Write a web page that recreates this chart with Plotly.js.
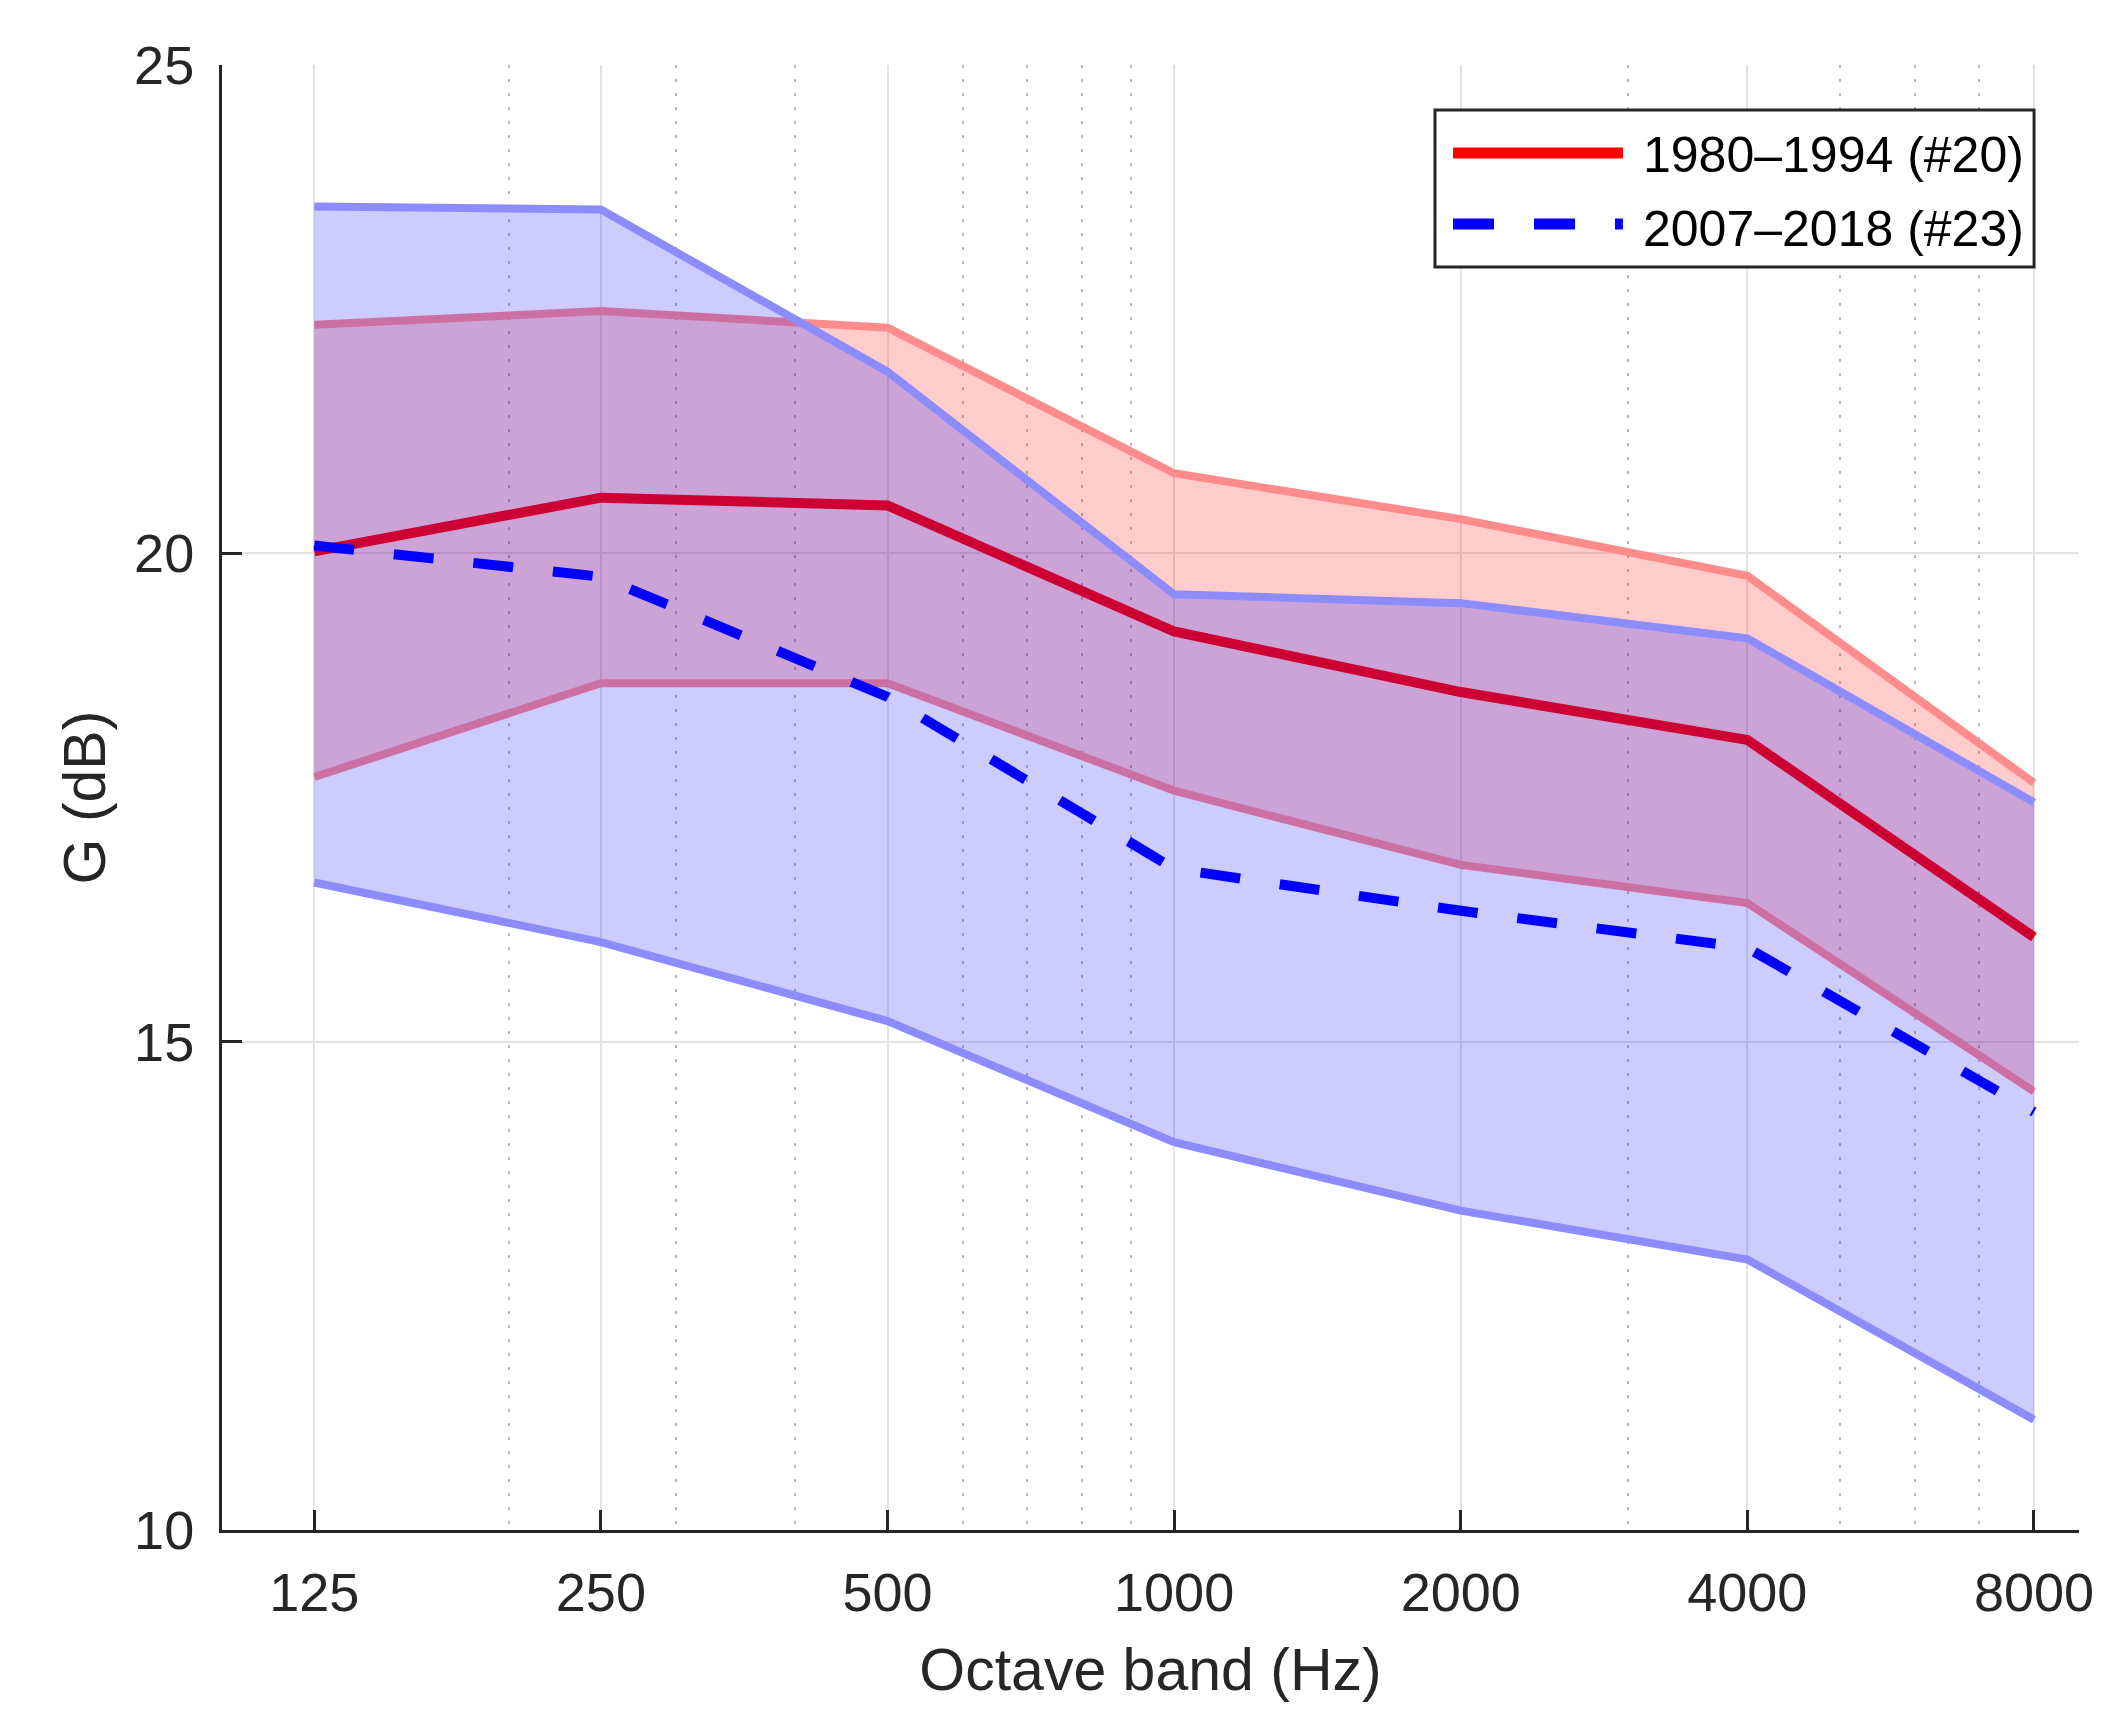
<!DOCTYPE html>
<html>
<head>
<meta charset="utf-8">
<script src="https://cdn.plot.ly/plotly-3.0.1.min.js"></script>
<style>
html,body{margin:0;padding:0;background:#fff;}
#chart{width:2112px;height:1736px;}
</style>
</head>
<body>
<div id="chart"></div>
<script>
// Octave bands (Hz)
const bands = [125, 250, 500, 1000, 2000, 4000, 8000];
const bandLabels = ["125", "250", "500", "1000", "2000", "4000", "8000"];
const minorTicks = [200, 300, 400, 600, 700, 800, 900, 3000, 5000, 6000, 7000];
const yTicks = [10, 15, 20, 25];

// 1980–1994 (#20)
const oldMean  = [20.02, 20.57, 20.49, 19.20, 18.58, 18.09, 16.07];
const oldUpper = [22.34, 22.48, 22.31, 20.82, 20.35, 19.77, 17.65];
const oldLower = [17.71, 18.67, 18.67, 17.57, 16.81, 16.42, 14.49];

// 2007–2018 (#23)
const newMean  = [20.08, 19.76, 18.53, 16.77, 16.34, 15.96, 14.28];
const newUpper = [23.55, 23.52, 21.86, 19.58, 19.49, 19.13, 17.45];
const newLower = [16.63, 16.02, 15.21, 13.97, 13.27, 12.77, 11.13];

const seriesNames = ["1980\u20131994 (#20)", "2007\u20132018 (#23)"];

const FONT = "'Liberation Sans', Arial, Helvetica, sans-serif";
const INK = "#262626";

const traces = [
  {x: bands, y: oldLower, mode: "lines", line: {color: "#ff8c8c", width: 8}, showlegend: false, hoverinfo: "skip"},
  {x: bands, y: oldUpper, mode: "lines", fill: "tonexty", fillcolor: "rgba(255,0,0,0.2)",
   line: {color: "#ff8c8c", width: 8}, showlegend: false, hoverinfo: "skip"},
  {x: bands, y: oldMean, mode: "lines", name: seriesNames[0], line: {color: "#ff0000", width: 10}, showlegend: false},
  {x: bands, y: newLower, mode: "lines", line: {color: "#8c8cff", width: 8}, showlegend: false, hoverinfo: "skip"},
  {x: bands, y: newUpper, mode: "lines", fill: "tonexty", fillcolor: "rgba(0,0,255,0.2)",
   line: {color: "#8c8cff", width: 8}, showlegend: false, hoverinfo: "skip"},
  {x: bands, y: newMean, mode: "lines", name: seriesNames[1], line: {color: "#0000ff", width: 10, dash: "40px,40px"}, showlegend: false}
];

// custom legend (paper coordinates)
const legX0 = 0.6532, legX1 = 0.9758, legY0 = 0.8621, legY1 = 0.9693;
const shapes = [
  {type: "rect", xref: "paper", yref: "paper", x0: legX0, x1: legX1, y0: legY0, y1: legY1,
   line: {color: INK, width: 3}, fillcolor: "#ffffff", layer: "above"},
  {type: "line", xref: "paper", yref: "paper", x0: 0.6629, x1: 0.7544, y0: 0.9399, y1: 0.9399,
   line: {color: "#ff0000", width: 11}, layer: "above"},
  {type: "line", xref: "paper", yref: "paper", x0: 0.6629, x1: 0.7544, y0: 0.8915, y1: 0.8915,
   line: {color: "#0000ff", width: 11, dash: "41px,40px"}, layer: "above"}
];
const annotations = [
  {xref: "paper", yref: "paper", x: 0.7641, y: 0.9385, xanchor: "left", yanchor: "middle",
   text: seriesNames[0], showarrow: false, font: {family: FONT, size: 50, color: "#000"}},
  {xref: "paper", yref: "paper", x: 0.7641, y: 0.8880, xanchor: "left", yanchor: "middle",
   text: seriesNames[1], showarrow: false, font: {family: FONT, size: 50, color: "#000"}}
];

const layout = {
  width: 2112, height: 1736,
  margin: {l: 222, r: 33, t: 65, b: 206, pad: 0},
  paper_bgcolor: "#ffffff", plot_bgcolor: "#ffffff",
  font: {family: FONT, color: INK},
  showlegend: false,
  xaxis: {
    type: "log",
    range: [2, 3.9504],
    tickmode: "array", tickvals: bands, ticktext: bandLabels,
    ticks: "inside", ticklen: 20, tickwidth: 3, tickcolor: INK,
    showline: true, linecolor: INK, linewidth: 3,
    showgrid: true, gridcolor: "#e3e3e3", gridwidth: 2,
    zeroline: false,
    tickfont: {family: FONT, size: 54, color: INK},
    ticklabelstandoff: 13,
    minor: {tickmode: "array", tickvals: minorTicks, showgrid: true, gridcolor: "#b8b8b8",
            gridwidth: 2, griddash: "3px,11px", ticks: ""},
    title: {text: "Octave band (Hz)", font: {family: FONT, size: 59, color: INK}, standoff: 28},
    automargin: false
  },
  yaxis: {
    range: [10, 25],
    tickmode: "array", tickvals: yTicks, ticktext: yTicks.map(String),
    ticks: "inside", ticklen: 20, tickwidth: 3, tickcolor: INK,
    showline: true, linecolor: INK, linewidth: 3,
    showgrid: true, gridcolor: "#e3e3e3", gridwidth: 2,
    zeroline: false,
    tickfont: {family: FONT, size: 54, color: INK},
    ticklabelstandoff: 14,
    title: {text: "G (dB)", font: {family: FONT, size: 59, color: INK}, standoff: 10},
    automargin: false
  },
  shapes: shapes,
  annotations: annotations
};

Plotly.newPlot("chart", traces, layout, {staticPlot: true, displayModeBar: false});
</script>
</body>
</html>
